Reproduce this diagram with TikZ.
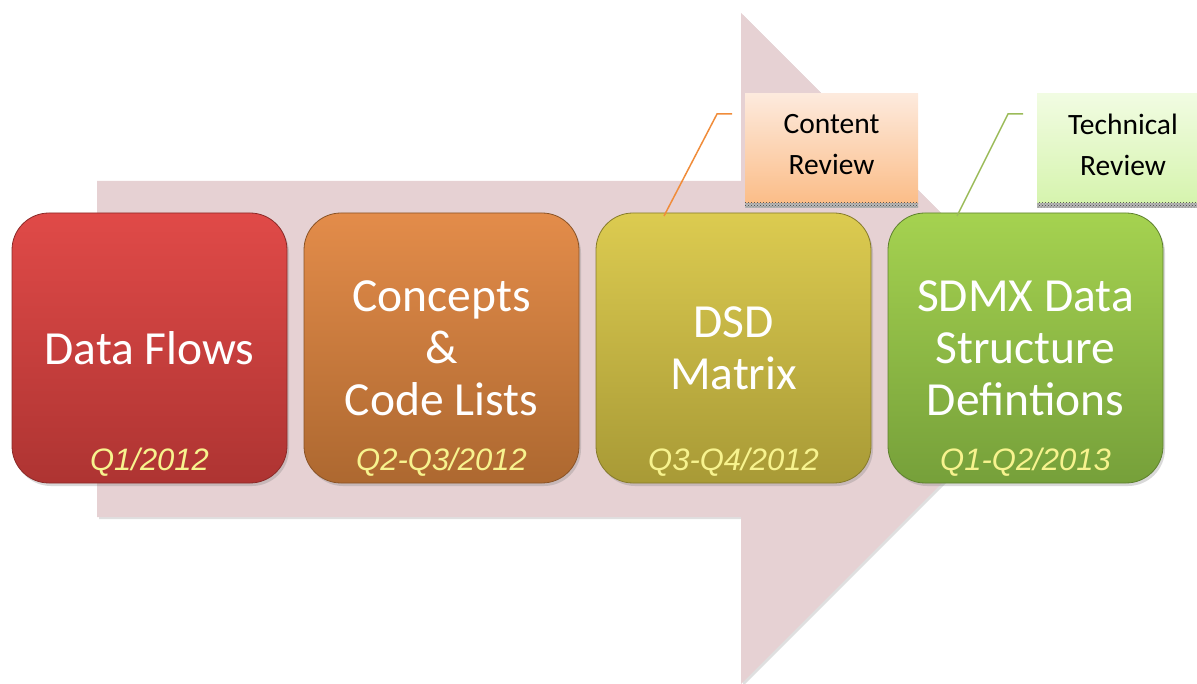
\documentclass[tikz,border=0pt]{standalone}
\usepackage{fontspec}
\setmainfont{Carlito}
\newfontfamily\datefont{Liberation Sans}
\usetikzlibrary{shadows,patterns}
\definecolor{arrowc}{HTML}{E6D1D3}
\definecolor{redT}{HTML}{E04A48}
\definecolor{redB}{HTML}{AE3432}
\definecolor{orT}{HTML}{E38C4A}
\definecolor{orB}{HTML}{AD6830}
\definecolor{yeT}{HTML}{DCCB50}
\definecolor{yeB}{HTML}{A89A36}
\definecolor{grT}{HTML}{A5D250}
\definecolor{grB}{HTML}{76A03A}
\definecolor{datey}{HTML}{F7F38E}
\definecolor{peachT}{HTML}{FDEADD}
\definecolor{peachB}{HTML}{FBBD88}
\definecolor{limeT}{HTML}{F1FCE2}
\definecolor{limeB}{HTML}{D6F4AE}
\definecolor{orline}{HTML}{F08C3A}
\definecolor{grline}{HTML}{9BBB59}
\begin{document}
\begin{tikzpicture}[x=1pt,y=-1pt,
  stage/.style={rounded corners=37pt, minimum width=275pt, minimum height=270pt,
    line width=0.8pt, drop shadow={opacity=0.3, shadow xshift=2pt, shadow yshift=-3pt}},
  maintext/.style={align=center, text=white, font=\fontsize{47.5}{52}\selectfont},
  datetext/.style={anchor=base, text=datey, font=\datefont\itshape\fontsize{31}{36}\selectfont},
  calltext/.style={align=center, text=black, font=\fontsize{29.5}{41}\selectfont},
  leader/.style={line width=1.5pt}
]
\useasboundingbox (0,0) rectangle (1197,684);
% big arrow
\fill[arrowc, drop shadow={opacity=0.25, shadow xshift=2pt, shadow yshift=-2pt}]
  (97,181) -- (741,181) -- (741,13) -- (1076.5,348.5) -- (741,684) -- (741,517) -- (97,517) -- cycle;

% stage boxes
\node[stage, top color=redT, bottom color=redB, draw=redB!80!black] (b1) at (149.5,348) {};
\node[stage, top color=orT, bottom color=orB, draw=orB!80!black] (b2) at (441.5,348) {};
\node[stage, top color=yeT, bottom color=yeB, draw=yeB!80!black] (b3) at (733.5,348) {};
\node[stage, top color=grT, bottom color=grB, draw=grB!80!black] (b4) at (1025.5,348) {};

\node[maintext] (t1) at (b1.center) {Data Flows};
\node[maintext] (t2) at (b2.center) {Concepts\\\&\\Code Lists};
\node[maintext] (t3) at (b3.center) {DSD\\Matrix};
\node[maintext] (t4) at (b4.center) {SDMX Data\\Structure\\Defintions};

\node[datetext] (d1) at (149.5,470) {Q1/2012};
\node[datetext] (d2) at (441.5,470) {Q2-Q3/2012};
\node[datetext] (d3) at (733.5,470) {Q3-Q4/2012};
\node[datetext] (d4) at (1025.5,470) {Q1-Q2/2013};

% callout boxes
\shade[top color=peachT, bottom color=peachB] (745,94) rectangle (918,203);
\fill[gray!55] (745,203) rectangle (918,208);
\fill[pattern=crosshatch dots, pattern color=black!75] (745,203) rectangle (918,208);
\node[calltext] (c1) at (831.5,145) {Content\\Review};

\shade[top color=limeT, bottom color=limeB] (1037,94) rectangle (1197,203);
\fill[gray!55] (1037,203) rectangle (1197,208);
\fill[pattern=crosshatch dots, pattern color=black!75] (1037,203) rectangle (1197,208);
\node[calltext] (c2) at (1123,145) {Technical\\Review};

% leader lines
\coordinate (l1a) at (732,114);
\coordinate (l1b) at (717,114);
\coordinate (l1c) at (664,216);
\draw[leader, orline] (l1a) -- (l1b) -- (l1c);
\coordinate (l2a) at (1023,114);
\coordinate (l2b) at (1008,114);
\coordinate (l2c) at (957,216);
\draw[leader, grline] (l2a) -- (l2b) -- (l2c);
\end{tikzpicture}
\end{document}
